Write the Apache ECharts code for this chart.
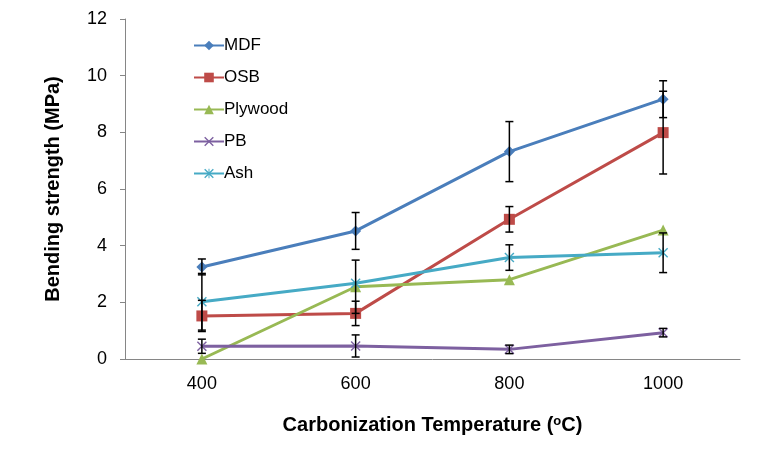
<!DOCTYPE html>
<html>
<head>
<meta charset="utf-8">
<script src="https://cdn.jsdelivr.net/npm/echarts@6/dist/echarts.min.js"></script>
<style>html,body{margin:0;padding:0;background:#fff}#c{width:758px;height:452px}</style>
</head>
<body>
<div id="c"></div>
<script>
var categories = ['400', '600', '800', '1000'];
var seriesNames = ['MDF', 'OSB', 'Plywood', 'PB', 'Ash'];
var mdf = [3.25, 4.52, 7.32, 9.17];
var osb = [1.52, 1.61, 4.93, 7.99];
var plywood = [0, 2.55, 2.8, 4.55];
var pb = [0.45, 0.46, 0.34, 0.93];
var ash = [2.02, 2.67, 3.58, 3.75];
var mdfErr = [0.28, 0.65, 1.06, 0.65];
var osbErr = [0.55, 0.43, 0.45, 1.46];
var plywoodErr = [0, 0.94, 0, 0];
var pbErr = [0.25, 0.39, 0.15, 0.15];
var ashErr = [1.0, 0, 0.45, 0.7];
var yTicks = [0, 2, 4, 6, 8, 10, 12];

var values = [mdf, osb, plywood, pb, ash];
var errs = [mdfErr, osbErr, plywoodErr, pbErr, ashErr];
var colors = ['#4a7ebb', '#be4b48', '#98b954', '#7d60a0', '#46aac5'];
var xPath = 'path://M0,1L1,0L5,4L9,0L10,1L6,5L10,9L9,10L5,6L1,10L0,9L4,5Z';
var astPath = 'path://M0,1L1,0L5,4L9,0L10,1L6,5L10,9L9,10L5,6L1,10L0,9L4,5Z M4.5,0L5.5,0L5.5,10L4.5,10Z';
var symbols = ['diamond', 'rect', 'triangle', xPath, astPath];
var sizes = [11, 11, 11, 10, 10];

var series = [];
seriesNames.forEach(function (n, i) {
  series.push({
    name: n, type: 'line', data: values[i],
    symbol: symbols[i], symbolSize: sizes[i],
    lineStyle: { color: colors[i], width: 3 },
    itemStyle: { color: colors[i] },
    z: 2
  });
});
var errData = [];
errs.forEach(function (e, i) {
  e.forEach(function (v, j) { if (v > 0) errData.push([j, values[i][j], v]); });
});
series.push({
  type: 'custom', z: 5, silent: true,
  data: errData,
  renderItem: function (params, api) {
    var x = api.value(0), y = api.value(1), e = api.value(2);
    var top = api.coord([x, y + e]);
    var bot = api.coord([x, y - e]);
    var w = 4;
    var st = { stroke: '#000', lineWidth: 1.5 };
    return { type: 'group', children: [
      { type: 'line', shape: { x1: top[0], y1: top[1], x2: bot[0], y2: bot[1] }, style: st },
      { type: 'line', shape: { x1: top[0] - w, y1: top[1], x2: top[0] + w, y2: top[1] }, style: st },
      { type: 'line', shape: { x1: bot[0] - w, y1: bot[1], x2: bot[0] + w, y2: bot[1] }, style: st }
    ]};
  }
});

var chart = echarts.init(document.getElementById('c'), null, { renderer: 'canvas' });
chart.setOption({
  animation: false,
  backgroundColor: '#fff',
  textStyle: { fontFamily: 'Liberation Sans, Arial, sans-serif' },
  grid: { left: 125, right: 18, top: 19, bottom: 93 },
  legend: {
    data: seriesNames, orient: 'vertical', left: 188, top: 32,
    itemWidth: 30, itemHeight: 12, itemGap: 15,
    textStyle: { fontSize: 17, color: '#000', fontFamily: 'Liberation Sans, Arial, sans-serif', padding: [0, 0, 0, -5] }
  },
  xAxis: {
    type: 'category', data: categories, boundaryGap: true,
    axisLine: { lineStyle: { color: '#868686', width: 1 } },
    axisTick: { show: false },
    axisLabel: { fontSize: 18, color: '#000', margin: 16 },
    name: 'Carbonization Temperature ({s|o}C)',
    nameLocation: 'middle', nameGap: 56,
    nameTextStyle: { fontSize: 20, fontWeight: 'bold', color: '#000',
      rich: { s: { fontSize: 13, fontWeight: 'bold', color: '#000', verticalAlign: 'top', padding: [0, 0, 8, 0] } } }
  },
  yAxis: {
    type: 'value', min: yTicks[0], max: yTicks[yTicks.length - 1], interval: 2,
    axisLine: { show: true, lineStyle: { color: '#868686', width: 1 } },
    axisTick: { show: true, length: 5, lineStyle: { color: '#868686' } },
    splitLine: { show: false },
    axisLabel: { fontSize: 18, color: '#000', margin: 18 },
    name: 'Bending strength (MPa)', nameLocation: 'middle', nameGap: 62,
    nameTextStyle: { fontSize: 20, fontWeight: 'bold', color: '#000' }
  },
  series: series
});
</script>
</body>
</html>
